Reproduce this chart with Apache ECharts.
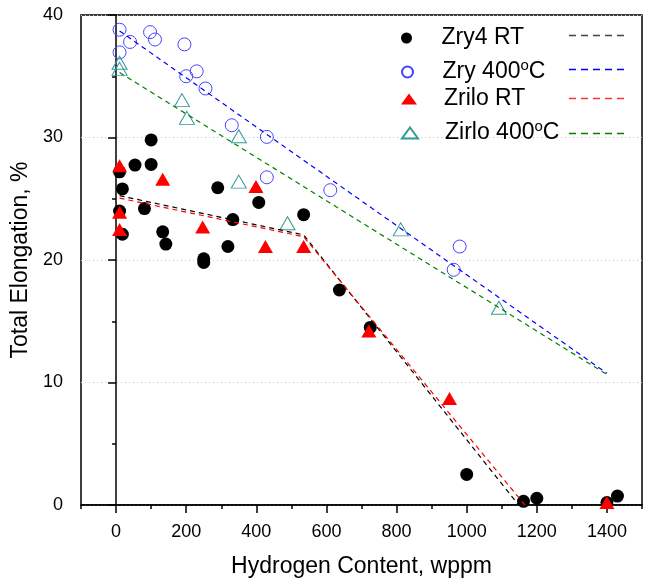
<!DOCTYPE html>
<html>
<head>
<meta charset="utf-8">
<title>Total Elongation vs Hydrogen Content</title>
<script src="https://cdn.jsdelivr.net/npm/echarts@6/dist/echarts.min.js"></script>
<style>
  html, body { margin: 0; padding: 0; background: #fff; }
  #chart { width: 653px; height: 583px; }
</style>
</head>
<body>
<div id="chart"></div>
<script>
// measured data, [hydrogen wppm, elongation %]
var zry4RT = [[10,27.2],[18,25.8],[10,24.0],[18,22.1],[54,27.75],[81,24.2],[100,29.8],[100,27.8],
  [133,22.3],[142,21.3],[250,20.1],[250,19.8],[290,25.9],[319,21.1],[333,23.3],[407,24.7],[535,23.7],
  [637,17.55],[725,14.5],[1000,2.5],[1162,0.3],[1200,0.55],[1400,0.2],[1430,0.73]];
var zry400 = [[10,38.8],[40,37.8],[10,36.95],[97,38.6],[111,38.0],[195,37.6],[200,35.0],[230,35.4],
  [255,34.0],[330,31.0],[430,30.05],[430,26.75],[611,25.7],[963,19.2],[980,21.1]];
var zirloRT = [[10,27.7],[10,23.9],[10,22.5],[133,26.6],[247,22.7],[399,26.0],[426,21.1],[535,21.1],
  [721,14.2],[951,8.7],[1400,0.2]];
var zirlo400 = [[10,36.1],[10,35.6],[188,33.05],[202,31.6],[350,30.1],[350,26.4],[489,23.0],
  [812,22.5],[1092,16.1]];

// dashed trend lines
var zry4Fit = [[10,25.25],[535,22.05],[1148,0]];
var zry400Fit = [[10,38.7],[1400,10.75]];
var zirloRTFit = [[10,25.05],[535,21.9],[1166,0]];
var zirlo400Fit = [[10,35.3],[1400,10.65]];

var xMajor = [0,200,400,600,800,1000,1200,1400];
var xMinor = [-100,100,300,500,700,900,1100,1300,1500];

var font = 'Liberation Sans, Arial, sans-serif';

var chart = echarts.init(document.getElementById('chart'));

function oneLegend(name, top) {
  return {
    data: [name],
    left: 401, top: top, padding: 0,
    itemWidth: 16, itemHeight: 11,
    selectedMode: false,
    textStyle: {
      fontFamily: font, fontSize: 23, color: '#000', lineHeight: 28,
      padding: [0, 0, 0, 22],
      rich: { sup: { fontFamily: font, fontSize: 15, verticalAlign: 'top', lineHeight: 16, color: '#000' } }
    },
    formatter: function (n) { return n.replace('°', '{sup|o}'); }
  };
}

// dashed swatches to the right of the legend text
var swatches = [
  { y: 35, color: '#444444' },
  { y: 69, color: '#0000ff' },
  { y: 98, color: '#ff3333' },
  { y: 133, color: '#008000' }
];

var option = {
  animation: false,
  textStyle: { fontFamily: font },
  grid: { left: 81, right: 11, top: 15, bottom: 78, containLabel: false, outerBoundsMode: 'none',
    show: true, borderColor: '#000', borderWidth: 1.5, backgroundColor: 'transparent' },
  legend: [
    oneLegend('Zry4 RT', 24),
    oneLegend('Zry 400°C', 58),
    oneLegend('Zrilo RT', 85),
    oneLegend('Zirlo 400°C', 119)
  ],
  graphic: {
    elements: swatches.map(function (s) {
      return {
        type: 'line', z: 10, silent: true,
        shape: { x1: 569, y1: s.y + 0.5, x2: 625, y2: s.y + 0.5 },
        style: { stroke: s.color, fill: null, lineWidth: 1.3, lineDash: [7, 5] }
      };
    })
  },
  xAxis: [{
    type: 'value', min: -100, max: 1500,
    name: 'Hydrogen Content, wppm', nameLocation: 'middle', nameGap: 50,
    nameTextStyle: { fontFamily: font, fontSize: 23, color: '#000' },
    axisLine: { show: true, lineStyle: { color: '#000', width: 1.5 } },
    axisTick: { show: true, inside: false, length: 8, customValues: xMajor, lineStyle: { color: '#000', width: 1.5 } },
    axisLabel: { customValues: xMajor, margin: 18, fontFamily: font, fontSize: 18, color: '#000',
      formatter: function (v) { return String(v); } },
    splitLine: { show: false }
  }, {
    type: 'value', min: -100, max: 1500, position: 'bottom',
    axisLine: { show: false },
    axisTick: { show: true, inside: false, length: 4, customValues: xMinor, lineStyle: { color: '#000', width: 1.5 } },
    axisLabel: { show: false },
    splitLine: { show: false }
  }],
  yAxis: {
    type: 'value', min: 0, max: 40, interval: 10,
    name: 'Total Elongation, %', nameLocation: 'middle', nameGap: 40,
    nameTextStyle: { fontFamily: font, fontSize: 23, color: '#000' },
    axisLine: { show: true, lineStyle: { color: '#000', width: 1.5 } },
    axisTick: { show: true, inside: false, length: 8, lineStyle: { color: '#000', width: 1.5 } },
    minorTick: { show: true, splitNumber: 2, length: 4, lineStyle: { color: '#000', width: 1.5 } },
    axisLabel: { margin: 18, fontFamily: font, fontSize: 18, color: '#000' },
    splitLine: { show: true, lineStyle: { color: '#c8c8c8', width: 1, type: [1, 3] } }
  },
  series: [
    { name: 'Zry4 RT', type: 'scatter', data: zry4RT, symbol: 'circle', symbolSize: 13,
      itemStyle: { color: '#000', opacity: 1 }, z: 2 },
    { name: 'Zry 400°C', type: 'scatter', data: zry400, symbol: 'circle', symbolSize: 13,
      itemStyle: { color: 'rgba(0,0,0,0)', borderColor: '#4444ff', borderWidth: 1, opacity: 1 }, z: 2 },
    { name: 'Zrilo RT', type: 'scatter', data: zirloRT, symbol: 'triangle', symbolSize: [15, 13],
      itemStyle: { color: '#ff0000', opacity: 1 }, z: 3 },
    { name: 'Zirlo 400°C', type: 'scatter', data: zirlo400, symbol: 'triangle', symbolSize: [15, 13],
      itemStyle: { color: 'rgba(0,0,0,0)', borderColor: '#339999', borderWidth: 1, opacity: 1 }, z: 3 },
    { name: 'fit1', type: 'line', data: zry4Fit, showSymbol: false, symbol: 'none', z: 4,
      lineStyle: { color: '#000', width: 1.2, type: [5, 4] } },
    { name: 'fit2', type: 'line', data: zry400Fit, showSymbol: false, symbol: 'none', z: 4,
      lineStyle: { color: '#0000ff', width: 1.2, type: [5, 4] } },
    { name: 'fit3', type: 'line', data: zirloRTFit, showSymbol: false, symbol: 'none', z: 4,
      lineStyle: { color: '#ff0000', width: 1.2, type: [5, 4] } },
    { name: 'fit4', type: 'line', data: zirlo400Fit, showSymbol: false, symbol: 'none', z: 4,
      lineStyle: { color: '#008000', width: 1.2, type: [5, 4] } }
  ]
};

chart.setOption(option);
</script>
</body>
</html>
